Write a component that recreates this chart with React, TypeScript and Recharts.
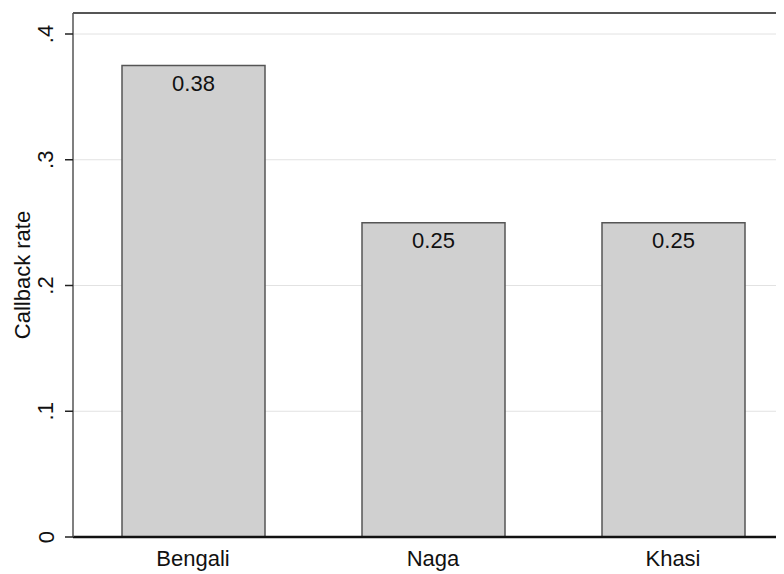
import {
  BarChart,
  Bar,
  CartesianGrid,
  XAxis,
  YAxis,
  ReferenceLine,
  LabelList,
  Label,
} from "recharts";

const groups = ["Bengali", "Naga", "Khasi"];
const callbackRates = [0.375, 0.25, 0.25];
const valueLabels = ["0.38", "0.25", "0.25"];
const yTicks = [0, 0.1, 0.2, 0.3, 0.4];
const yTickLabels = ["0", ".1", ".2", ".3", ".4"];

const yMax = 0.4167;
const font = "'Liberation Sans', Arial, sans-serif";

const data = groups.map((g, i) => ({
  name: g,
  rate: callbackRates[i],
  label: valueLabels[i],
}));

function YTick(props: any) {
  const { x, y, payload } = props;
  const idx = yTicks.indexOf(payload.value);
  const text = idx >= 0 ? yTickLabels[idx] : String(payload.value);
  const cx = x - 17;
  return (
    <text
      x={cx}
      y={y}
      transform={`rotate(-90 ${cx} ${y})`}
      textAnchor="middle"
      dominantBaseline="central"
      fontSize={22}
      fontFamily={font}
      fill="#111"
    >
      {text}
    </text>
  );
}

export default function App() {
  return (
    <div style={{ width: 776, height: 566, overflow: "hidden" }}>
      <BarChart
        width={800}
        height={566}
        data={data}
        margin={{ top: 5, right: 15, left: 0, bottom: 7 }}
      >
        <CartesianGrid vertical={false} stroke="#e2e2e2" />
        <ReferenceLine y={yMax} stroke="#222" strokeWidth={1.5} />
        <XAxis
          dataKey="name"
          height={30}
          tickLine={false}
          tickSize={11}
          axisLine={{ stroke: "#111", strokeWidth: 2.5 }}
          tick={{ fontSize: 22, fontFamily: font, fill: "#111" }}
        />
        <YAxis
          width={65}
          domain={[0, yMax]}
          ticks={yTicks}
          interval={0}
          allowDataOverflow
          tickSize={8}
          tickLine={{ stroke: "#222", strokeWidth: 1.5 }}
          axisLine={{ stroke: "#555", strokeWidth: 1.5 }}
          tick={<YTick />}
        >
          <Label
            value="Callback rate"
            angle={-90}
            position="insideLeft"
            offset={14}
            style={{ fontSize: 22, fontFamily: font, fill: "#111", textAnchor: "middle" }}
          />
        </YAxis>
        <Bar
          dataKey="rate"
          fill="#d0d0d0"
          stroke="#555"
          strokeWidth={1.5}
          barSize={143}
          isAnimationActive={false}
        >
          <LabelList
            dataKey="label"
            position="insideTop"
            offset={10}
            style={{ fontSize: 22, fontFamily: font, fill: "#111" }}
          />
        </Bar>
      </BarChart>
    </div>
  );
}
